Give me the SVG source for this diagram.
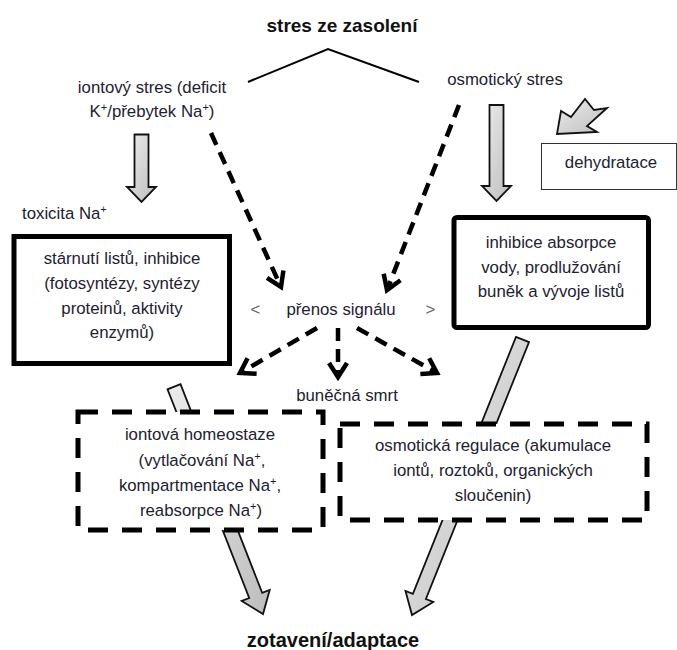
<svg xmlns="http://www.w3.org/2000/svg" width="677" height="650" viewBox="0 0 677 650">
<style>
text{font-family:"Liberation Sans",Arial,sans-serif;font-size:16.8px;fill:#1e2130;text-anchor:middle}
.title{font-weight:bold;fill:#111;font-size:19px}
.title2{font-weight:bold;fill:#111;font-size:20px}
.solid{fill:#fff;stroke:#000;stroke-width:5}
.dbox{fill:#fff;stroke:#000;stroke-width:5;stroke-dasharray:20 14}
.thin{fill:#fff;stroke:#333;stroke-width:1}
.dash{fill:none;stroke:#000;stroke-width:4.5;stroke-dasharray:13 8;marker-end:url(#chev)}
.garrow{fill:url(#gg);stroke:#111;stroke-width:1.8;stroke-linejoin:miter}
.gray{fill:#666}
</style>
<defs>
<linearGradient id="gg" x1="0" y1="0" x2="1" y2="1">
<stop offset="0" stop-color="#ececec"/>
<stop offset="1" stop-color="#bdbdbd"/>
</linearGradient>
<marker id="chev" markerUnits="userSpaceOnUse" markerWidth="40" markerHeight="40" refX="0" refY="0" orient="auto" overflow="visible">
<path d="M-14,-9 L0,0 L-14,9" fill="none" stroke="#000" stroke-width="4.5" stroke-linejoin="miter"/>
</marker>
</defs>

<g id="connectors">
<polyline points="248,82 328,49 419,82" fill="none" stroke="#000" stroke-width="2"/>
<polygon class="garrow" points="134.5,134.5 148.5,134.5 148.5,187 156,187 141.5,202 127,187 134.5,187"/>
<polygon class="garrow" points="489.5,105 503.5,105 503.5,186 511,186 496.5,201 482,186 489.5,186"/>
<polygon class="garrow" points="557,134 561,111 571,117 585,99 594,110 607,108 587,126 597,132"/>
<path class="dash" d="M211,133 L281,287"/>
<path class="dash" d="M459,105 L387,290"/>
<path class="dash" d="M317,328 L240,373"/>
<path class="dash" d="M338,328 L338,377"/>
<path class="dash" d="M357,328 L437,373"/>
<polygon class="garrow" points="180.5,384.1 262.2,592.8 269.7,589.9 263,614 241.7,600.9 249.2,598 167.5,389.3"/>
<polygon class="garrow" points="529,342.1 425.9,599 433.3,602 412,615 405.5,590.9 412.9,593.8 516,336.9"/>
</g>

<g id="title"><text class="title" x="342" y="32">stres ze zasolení</text></g>
<g id="iontovy-stres">
<text x="152" y="93">iontový stres (deficit</text>
<text x="152" y="117">K<tspan baseline-shift="super" font-size="11">+</tspan>/přebytek Na<tspan baseline-shift="super" font-size="11">+</tspan>)</text>
</g>
<g id="osmoticky-stres"><text x="505" y="85">osmotický stres</text></g>
<g id="dehydratace">
<rect class="thin" x="541.5" y="143.5" width="135" height="46"/>
<text x="611" y="168">dehydratace</text>
</g>
<g id="toxicita"><text x="22" y="219" style="text-anchor:start">toxicita Na<tspan baseline-shift="super" font-size="11">+</tspan></text></g>
<g id="starnuti">
<rect class="solid" x="14" y="236.5" width="215.5" height="127"/>
<text x="122" y="264">stárnutí listů, inhibice</text>
<text x="122" y="289">(fotosyntézy, syntézy</text>
<text x="122" y="314">proteinů, aktivity</text>
<text x="122" y="338">enzymů)</text>
</g>
<g id="inhibice-absorpce">
<rect class="solid" x="454" y="217.5" width="194.5" height="110" rx="3"/>
<text x="551" y="248">inhibice absorpce</text>
<text x="551" y="273">vody, prodlužování</text>
<text x="551" y="297">buněk a vývoje listů</text>
</g>
<g id="prenos-signalu">
<text class="gray" x="255.5" y="315">&lt;</text>
<text x="341" y="315">přenos signálu</text>
<text class="gray" x="430.5" y="315">&gt;</text>
</g>
<g id="bunecna-smrt"><text x="347" y="401">buněčná smrt</text></g>
<g id="iontova-homeostaze">
<rect class="dbox" x="78" y="412" width="245" height="118"/>
<text x="200" y="440">iontová homeostaze</text>
<text x="202" y="466">(vytlačování Na<tspan baseline-shift="super" font-size="11">+</tspan>,</text>
<text x="200" y="491">kompartmentace Na<tspan baseline-shift="super" font-size="11">+</tspan>,</text>
<text x="201" y="516">reabsorpce Na<tspan baseline-shift="super" font-size="11">+</tspan>)</text>
</g>
<g id="osmoticka-regulace">
<rect class="dbox" x="340" y="424" width="307" height="96"/>
<text x="493" y="451">osmotická regulace (akumulace</text>
<text x="493" y="476">iontů, roztoků, organických</text>
<text x="493" y="501">sloučenin)</text>
</g>
<g id="zotaveni"><text class="title2" x="333" y="647">zotavení/adaptace</text></g>
</svg>
